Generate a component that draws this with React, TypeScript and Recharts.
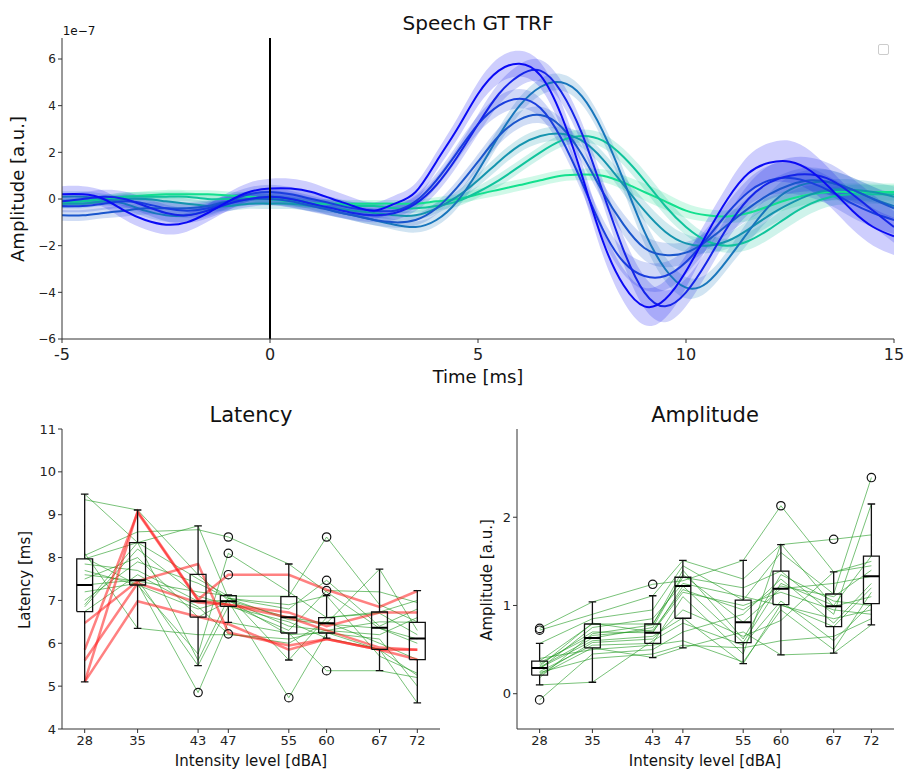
import React from 'react';
import { ComposedChart, Line, Area, Scatter, XAxis, YAxis, ReferenceLine } from 'recharts';

// ---- top panel: TRF waveforms (units of 1e-7) ----
const timeMs = [
  -5, -4.5, -4, -3.5, -3, -2.5, -2, -1.5, -1, -0.5,
  0, 0.5, 1, 1.5, 2, 2.5, 3, 3.5, 4, 4.5,
  5, 5.5, 6, 6.5, 7, 7.5, 8, 8.5, 9, 9.5,
  10, 10.5, 11, 11.5, 12, 12.5, 13, 13.5, 14, 14.5, 15,
];

const trf72 = [0.2, 0.2, 0.0, -0.5, -0.9, -1.1, -1.0, -0.6, -0.1, 0.3, 0.45, 0.45, 0.3, 0.0, -0.3, -0.5, -0.2, 0.3, 1.6, 3.0, 4.5, 5.5, 5.8, 5.3, 3.6, 1.0, -1.8, -3.7, -4.6, -4.3, -3.1, -1.5, 0.0, 1.1, 1.55, 1.6, 1.2, 0.4, -0.5, -1.2, -1.6];
const trf67 = [-0.1, 0.0, 0.1, 0.0, -0.3, -0.6, -0.7, -0.5, -0.2, 0.0, 0.1, 0.0, -0.2, -0.4, -0.6, -0.7, -0.6, -0.2, 0.6, 1.8, 3.2, 4.5, 5.3, 5.5, 4.6, 2.8, 0.3, -2.2, -4.0, -4.6, -4.0, -2.7, -1.2, 0.0, 0.7, 1.0, 1.05, 0.8, 0.2, -0.5, -1.2];
const trf60 = [-0.3, -0.3, -0.2, -0.1, -0.2, -0.4, -0.5, -0.4, -0.1, 0.2, 0.3, 0.2, 0.0, -0.2, -0.4, -0.5, -0.5, -0.1, 0.8, 2.0, 3.2, 4.0, 4.3, 3.9, 2.6, 0.7, -1.3, -2.7, -3.3, -3.3, -2.7, -1.7, -0.6, 0.3, 0.8, 0.9, 0.7, 0.3, -0.2, -0.6, -0.9];
const trf55 = [-0.7, -0.7, -0.6, -0.5, -0.4, -0.4, -0.4, -0.3, -0.1, 0.0, 0.0, -0.1, -0.3, -0.5, -0.7, -0.9, -1.0, -0.9, -0.4, 0.5, 1.6, 2.7, 3.4, 3.6, 3.1, 1.9, 0.3, -1.1, -2.1, -2.4, -2.3, -1.8, -1.1, -0.4, 0.2, 0.6, 0.8, 0.7, 0.4, 0.0, -0.4];
const trf47 = [0.1, 0.1, 0.0, -0.2, -0.5, -0.7, -0.7, -0.5, -0.2, 0.0, 0.1, 0.0, -0.2, -0.5, -0.7, -0.9, -1.1, -1.2, -0.9, -0.1, 1.2, 2.7, 4.0, 4.8, 5.0, 4.4, 2.9, 0.8, -1.4, -3.0, -3.8, -3.6, -2.6, -1.4, -0.3, 0.4, 0.7, 0.7, 0.4, 0.0, -0.3];
const trf43 = [-0.2, -0.2, -0.1, 0.0, 0.0, -0.1, -0.2, -0.3, -0.3, -0.2, -0.2, -0.2, -0.3, -0.4, -0.5, -0.6, -0.7, -0.7, -0.4, 0.1, 0.8, 1.6, 2.3, 2.7, 2.8, 2.5, 1.7, 0.6, -0.5, -1.4, -1.9, -2.0, -1.8, -1.3, -0.7, -0.2, 0.2, 0.4, 0.4, 0.3, 0.1];
const trf35 = [-0.2, -0.1, 0.0, 0.1, 0.1, 0.1, 0.1, 0.0, 0.0, 0.0, 0.0, -0.1, -0.2, -0.2, -0.3, -0.3, -0.4, -0.4, -0.3, -0.1, 0.3, 0.8, 1.4, 2.0, 2.5, 2.7, 2.5, 1.8, 0.8, -0.3, -1.2, -1.8, -2.0, -1.8, -1.3, -0.7, -0.2, 0.1, 0.2, 0.2, 0.2];
const trf28 = [-0.1, -0.1, 0.0, 0.1, 0.15, 0.2, 0.2, 0.2, 0.15, 0.1, 0.0, -0.1, -0.2, -0.2, -0.2, -0.2, -0.2, -0.2, -0.1, 0.0, 0.2, 0.4, 0.6, 0.8, 1.0, 1.05, 1.0, 0.7, 0.3, -0.1, -0.5, -0.7, -0.75, -0.6, -0.3, 0.0, 0.2, 0.3, 0.3, 0.3, 0.3];

// spread of the shaded band over time, and how wide it is for each level
const semProfile = [
  0.35, 0.35, 0.35, 0.38, 0.4, 0.42, 0.4, 0.38, 0.38, 0.4,
  0.42, 0.42, 0.4, 0.37, 0.35, 0.35, 0.35, 0.37, 0.4, 0.45,
  0.5, 0.55, 0.55, 0.55, 0.55, 0.55, 0.6, 0.7, 0.8, 0.8,
  0.7, 0.6, 0.6, 0.75, 0.85, 0.9, 0.85, 0.8, 0.8, 0.8, 0.8,
];

const trfSeries = [
  { key: 'l28', values: trf28, sem: 0.45, color: '#12e08e' },
  { key: 'l35', values: trf35, sem: 0.5, color: '#10c49c' },
  { key: 'l43', values: trf43, sem: 0.55, color: '#1494ae' },
  { key: 'l47', values: trf47, sem: 0.65, color: '#1876bc' },
  { key: 'l55', values: trf55, sem: 0.65, color: '#1a56cc' },
  { key: 'l60', values: trf60, sem: 0.75, color: '#1a3ede' },
  { key: 'l67', values: trf67, sem: 0.85, color: '#1424e8' },
  { key: 'l72', values: trf72, sem: 1.0, color: '#0a0af4' },
];

const trfRows = timeMs.map((t, i) => {
  const row: any = { t };
  trfSeries.forEach((s) => {
    const v = s.values[i];
    const e = semProfile[i] * s.sem;
    row[s.key] = v;
    row[s.key + '_band'] = [v - e, v + e];
  });
  return row;
});

// ---- bottom panels ----
const levels = [28, 35, 43, 47, 55, 60, 67, 72];

// latency boxplot stats (ms)
const latLo = [5.1, 6.35, 5.48, 6.49, 5.61, 6.12, 5.36, 4.61];
const latQ1 = [6.74, 7.36, 6.61, 6.86, 6.24, 6.24, 5.86, 5.62];
const latMed = [7.36, 7.47, 6.98, 6.98, 6.61, 6.47, 6.36, 6.11];
const latQ3 = [7.97, 8.35, 7.61, 7.11, 7.09, 6.6, 6.73, 6.49];
const latHi = [9.48, 9.11, 8.74, 7.13, 7.85, 7.11, 7.73, 7.23];
const latOutliers = [
  { x: 43, y: 4.85 },
  { x: 47, y: 8.48 }, { x: 47, y: 8.1 }, { x: 47, y: 7.6 }, { x: 47, y: 6.22 },
  { x: 55, y: 4.73 },
  { x: 60, y: 8.48 }, { x: 60, y: 7.47 }, { x: 60, y: 7.23 }, { x: 60, y: 5.36 },
];

const latGreen = [
  [9.48, 8.35, 8.74, 7.05, 6.55, 6.45, 6.35, 6.1],
  [9.35, 9.11, 7.6, 7.0, 6.2, 6.25, 5.85, 5.25],
  [8.05, 8.6, 8.65, 8.48, 7.85, 7.2, 6.35, 6.0],
  [7.97, 8.35, 7.5, 7.1, 7.1, 8.48, 6.9, 6.5],
  [7.85, 7.7, 6.98, 7.0, 6.6, 6.47, 7.73, 6.3],
  [7.7, 7.36, 5.75, 8.1, 7.2, 6.6, 6.7, 6.2],
  [7.5, 8.0, 6.61, 6.98, 4.73, 6.24, 6.1, 5.0],
  [7.36, 7.48, 5.48, 6.86, 6.5, 6.12, 5.86, 4.61],
  [7.2, 7.4, 4.85, 6.49, 6.24, 5.36, 5.36, 5.2],
  [7.0, 7.9, 7.4, 7.05, 6.8, 7.47, 6.4, 6.8],
  [6.85, 8.2, 7.1, 6.9, 6.3, 7.23, 7.2, 6.95],
  [6.74, 7.6, 6.85, 6.22, 6.0, 6.5, 6.0, 5.62],
  [8.1, 6.35, 6.2, 6.2, 6.1, 6.3, 6.5, 6.49],
  [7.6, 7.45, 7.2, 7.11, 5.61, 6.6, 6.73, 7.0],
  [6.9, 8.35, 5.6, 7.05, 6.9, 7.11, 5.7, 5.3],
  [8.0, 7.36, 6.8, 7.0, 6.4, 6.3, 6.2, 6.6],
];
const latRed = [
  [5.1, 9.08, 7.02, 7.6, 7.6, 7.25, 6.85, 7.22],
  [6.47, 7.45, 7.85, 6.25, 5.95, 6.1, 5.85, 5.85],
  [5.6, 7.4, 6.95, 6.9, 6.72, 6.4, 6.72, 6.72],
  [5.1, 6.98, 6.62, 6.45, 5.85, 6.1, 5.85, 5.62],
  [5.85, 9.05, 7.0, 6.9, 6.6, 6.3, 5.9, 5.85],
];

// amplitude boxplot stats (a.u.)
const ampLo = [0.1, 0.13, 0.41, 0.52, 0.34, 0.44, 0.46, 0.78];
const ampQ1 = [0.21, 0.52, 0.57, 0.855, 0.58, 1.01, 0.76, 1.02];
const ampMed = [0.29, 0.63, 0.69, 1.22, 0.81, 1.19, 0.99, 1.33];
const ampQ3 = [0.37, 0.79, 0.79, 1.32, 1.06, 1.39, 1.13, 1.56];
const ampHi = [0.57, 1.04, 1.11, 1.51, 1.51, 1.69, 1.38, 2.15];
const ampOutliers = [
  { x: 28, y: 0.74 }, { x: 28, y: 0.72 }, { x: 28, y: -0.07 },
  { x: 43, y: 1.24 },
  { x: 60, y: 2.13 },
  { x: 67, y: 1.75 },
  { x: 72, y: 2.45 },
];

const ampGreen = [
  [0.74, 1.04, 1.24, 1.28, 1.51, 2.13, 1.38, 1.45],
  [0.72, 0.9, 1.11, 1.51, 1.3, 1.69, 1.75, 1.8],
  [0.57, 0.85, 0.95, 1.45, 1.06, 1.6, 1.13, 2.45],
  [0.37, 0.79, 0.79, 1.32, 1.2, 1.39, 0.9, 2.15],
  [0.33, 0.7, 0.69, 1.22, 0.58, 1.25, 1.0, 1.56],
  [0.3, 0.63, 0.75, 1.35, 0.81, 1.19, 1.25, 1.33],
  [0.29, 0.6, 0.65, 0.86, 0.34, 1.01, 0.76, 1.2],
  [0.25, 0.55, 0.57, 1.1, 0.45, 1.7, 0.99, 1.1],
  [0.21, 0.52, 0.41, 0.52, 0.7, 0.44, 0.46, 0.78],
  [0.1, 0.13, 0.6, 0.8, 0.55, 1.05, 0.6, 1.02],
  [-0.07, 0.45, 0.5, 0.7, 0.9, 1.3, 0.8, 1.25],
  [0.35, 0.66, 0.72, 1.18, 0.95, 1.22, 1.1, 1.4],
  [0.28, 0.75, 0.85, 1.25, 1.1, 1.0, 0.85, 0.95],
  [0.22, 0.58, 0.62, 0.95, 0.65, 0.83, 1.38, 1.5],
  [0.4, 0.5, 0.55, 0.6, 0.36, 0.95, 0.5, 1.15],
  [0.18, 0.68, 0.78, 1.4, 0.62, 1.35, 1.05, 1.0],
  [0.31, 0.8, 0.7, 1.15, 1.0, 1.15, 0.95, 0.9],
  [0.24, 0.4, 0.45, 0.55, 0.52, 0.6, 0.65, 0.85],
];

const FONT = '"DejaVu Sans", sans-serif';
const AXIS = '#333';
const BOX_HALF = 1.05;
const CAP_HALF = 0.5;

const minus = (v: number) => (v < 0 ? '\u2212' + Math.abs(v) : String(v));

const toPoints = (vals: number[]) => levels.map((x, i) => ({ x, y: vals[i] }));

function boxOutline(lo: number[], q1: number[], q3: number[], hi: number[]) {
  const pts: any[] = [];
  levels.forEach((x, i) => {
    const seg = (a: any[]) => {
      pts.push(...a);
      pts.push({ x, y: null });
    };
    seg([
      { x: x - BOX_HALF, y: q1[i] }, { x: x + BOX_HALF, y: q1[i] },
      { x: x + BOX_HALF, y: q3[i] }, { x: x - BOX_HALF, y: q3[i] },
      { x: x - BOX_HALF, y: q1[i] },
    ]);
    seg([{ x, y: q3[i] }, { x, y: hi[i] }]);
    seg([{ x: x - CAP_HALF, y: hi[i] }, { x: x + CAP_HALF, y: hi[i] }]);
    seg([{ x, y: q1[i] }, { x, y: lo[i] }]);
    seg([{ x: x - CAP_HALF, y: lo[i] }, { x: x + CAP_HALF, y: lo[i] }]);
  });
  return pts;
}

function medianSegs(med: number[]) {
  const pts: any[] = [];
  levels.forEach((x, i) => {
    pts.push({ x: x - BOX_HALF, y: med[i] }, { x: x + BOX_HALF, y: med[i] }, { x, y: null });
  });
  return pts;
}

const Ring = (props: any) => (
  <circle cx={props.cx} cy={props.cy} r={4.2} fill="none" stroke="#111" strokeWidth={1.2} />
);

const Txt: React.FC<{ x: number; y: number; size: number; rotate?: boolean; children: React.ReactNode }> = ({ x, y, size, rotate, children }) => (
  <div
    style={{
      position: 'absolute',
      left: x,
      top: y,
      transform: `translate(-50%, -50%)${rotate ? ' rotate(-90deg)' : ''}`,
      fontSize: size,
      fontFamily: FONT,
      color: '#111',
      whiteSpace: 'nowrap',
      lineHeight: 1,
    }}
  >
    {children}
  </div>
);

const tickStyle = (size: number, dy = 0) => ({ fill: '#222', fontSize: size, fontFamily: FONT, dy });

interface BoxPanelProps {
  yDomain: [number, number];
  yTicks: number[];
  green: number[][];
  red?: number[][];
  lo: number[];
  q1: number[];
  med: number[];
  q3: number[];
  hi: number[];
  outliers: { x: number; y: number }[];
  width: number;
  marginLeft: number;
  marginRight: number;
}

const BoxPanel: React.FC<BoxPanelProps> = (p) => (
  <ComposedChart width={p.width} height={379} margin={{ top: 39, right: p.marginRight, bottom: 15, left: p.marginLeft }}>
    <XAxis
      dataKey="x"
      type="number"
      domain={[25, 75]}
      ticks={levels}
      allowDataOverflow
      height={25}
      stroke={AXIS}
      tickSize={4}
      tick={tickStyle(13, 1)}
    />
    <YAxis
      type="number"
      domain={p.yDomain}
      ticks={p.yTicks}
      allowDataOverflow
      width={40}
      stroke={AXIS}
      tickSize={4}
      tick={tickStyle(13)}
    />
    {p.green.map((vals, i) => (
      <Line
        key={'g' + i}
        data={toPoints(vals)}
        dataKey="y"
        type="linear"
        stroke="#1f9a1f"
        strokeOpacity={0.6}
        strokeWidth={1}
        dot={false}
        activeDot={false}
        isAnimationActive={false}
      />
    ))}
    {(p.red || []).map((vals, i) => (
      <Line
        key={'r' + i}
        data={toPoints(vals)}
        dataKey="y"
        type="linear"
        stroke="#ff1a1a"
        strokeOpacity={0.55}
        strokeWidth={2.5}
        dot={false}
        activeDot={false}
        isAnimationActive={false}
      />
    ))}
    <Line
      data={boxOutline(p.lo, p.q1, p.q3, p.hi)}
      dataKey="y"
      type="linear"
      stroke="#111"
      strokeWidth={1.3}
      dot={false}
      activeDot={false}
      connectNulls={false}
      isAnimationActive={false}
    />
    <Line
      data={medianSegs(p.med)}
      dataKey="y"
      type="linear"
      stroke="#000"
      strokeWidth={2}
      dot={false}
      activeDot={false}
      connectNulls={false}
      isAnimationActive={false}
    />
    <Scatter data={p.outliers} dataKey="y" shape={Ring} isAnimationActive={false} />
  </ComposedChart>
);

export default function App() {
  return (
    <div style={{ position: 'absolute', left: 0, top: 0, width: 906, height: 769, background: '#fff', fontFamily: FONT }}>
      <div style={{ position: 'absolute', left: 0, top: 0 }}>
        <ComposedChart width={906} height={390} data={trfRows} margin={{ top: 38, right: 12, bottom: 21, left: 12 }}>
          <XAxis
            dataKey="t"
            type="number"
            domain={[-5, 15]}
            ticks={[-5, 0, 5, 10, 15]}
            allowDataOverflow
            height={30}
            stroke={AXIS}
            tickSize={4}
            tick={tickStyle(16, 4)}
          />
          <YAxis
            type="number"
            domain={[-6, 6.9]}
            ticks={[-6, -4, -2, 0, 2, 4, 6]}
            tickFormatter={minus}
            allowDataOverflow
            width={50}
            stroke={AXIS}
            tickSize={4}
            tick={tickStyle(12)}
          />
          {trfSeries.map((s) => [
            <Area
              key={s.key + 'a'}
              dataKey={s.key + '_band'}
              type="natural"
              stroke="none"
              fill={s.color}
              fillOpacity={0.2}
              activeDot={false}
              isAnimationActive={false}
            />,
            <Line
              key={s.key + 'l'}
              dataKey={s.key}
              type="natural"
              stroke={s.color}
              strokeWidth={2}
              dot={false}
              activeDot={false}
              isAnimationActive={false}
            />,
          ])}
          <ReferenceLine x={0} stroke="#000" strokeWidth={2} />
        </ComposedChart>
      </div>
      <Txt x={478} y={23} size={20}>Speech GT TRF</Txt>
      <Txt x={79} y={31} size={12}>1e{'\u2212'}7</Txt>
      <Txt x={18} y={189} size={18} rotate>Amplitude [a.u.]</Txt>
      <Txt x={478} y={377} size={18}>Time [ms]</Txt>
      <div style={{ position: 'absolute', left: 878, top: 44, width: 9, height: 9, border: '1px solid #ccc', borderRadius: 2 }} />

      <div style={{ position: 'absolute', left: 0, top: 390 }}>
        <BoxPanel
          width={450}
          marginLeft={22}
          marginRight={10}
          yDomain={[4, 11]}
          yTicks={[4, 5, 6, 7, 8, 9, 10, 11]}
          green={latGreen}
          red={latRed}
          lo={latLo}
          q1={latQ1}
          med={latMed}
          q3={latQ3}
          hi={latHi}
          outliers={latOutliers}
        />
      </div>
      <Txt x={251} y={415} size={21}>Latency</Txt>
      <Txt x={25} y={580} size={15} rotate>Latency [ms]</Txt>
      <Txt x={251} y={761} size={15}>Intensity level [dBA]</Txt>

      <div style={{ position: 'absolute', left: 450, top: 390 }}>
        <BoxPanel
          width={456}
          marginLeft={27}
          marginRight={12}
          yDomain={[-0.4, 3.0]}
          yTicks={[0, 1, 2]}
          green={ampGreen}
          lo={ampLo}
          q1={ampQ1}
          med={ampMed}
          q3={ampQ3}
          hi={ampHi}
          outliers={ampOutliers}
        />
      </div>
      <Txt x={705} y={415} size={21}>Amplitude</Txt>
      <Txt x={487} y={580} size={15} rotate>Amplitude [a.u.]</Txt>
      <Txt x={705} y={761} size={15}>Intensity level [dBA]</Txt>
    </div>
  );
}
